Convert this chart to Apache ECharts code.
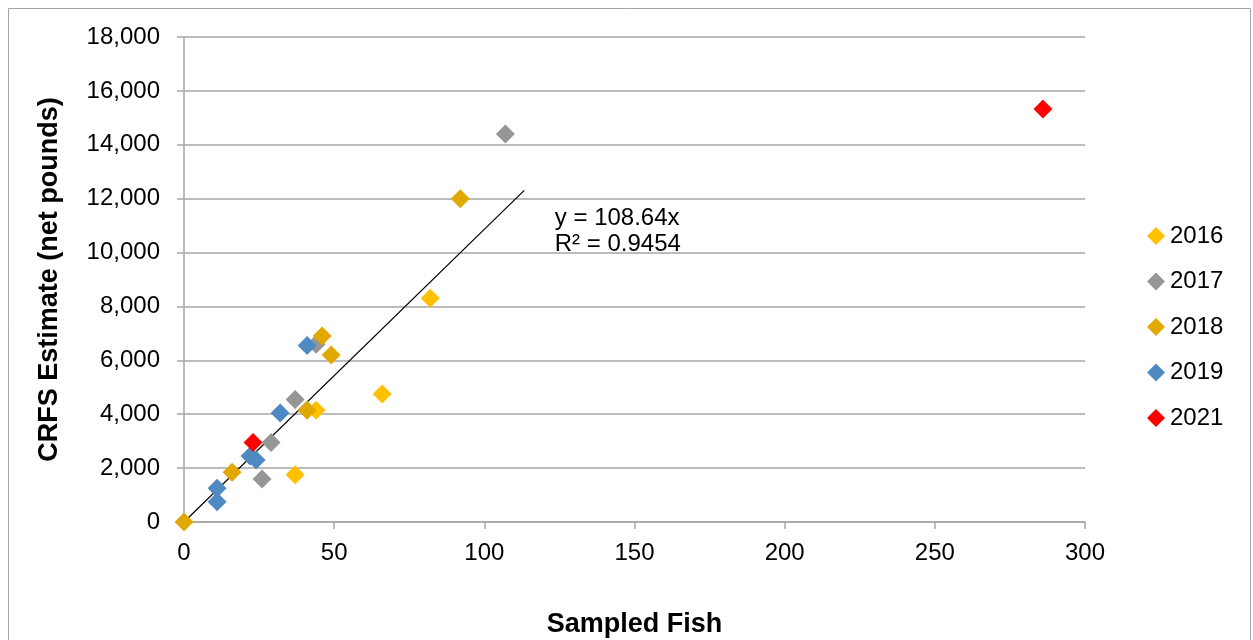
<!DOCTYPE html>
<html><head><meta charset="utf-8">
<script src="https://cdn.jsdelivr.net/npm/echarts@6/dist/echarts.min.js"></script>
<style>html,body{margin:0;padding:0;background:#fff}#c{width:1253px;height:640px}</style>
</head><body><div id="c"></div>
<script>
const seriesNames = ['2016','2017','2018','2019','2021'];
const data2016 = [[37,1750],[44,4150],[66,4750],[82,8300]];
const data2017 = [[26,1600],[29,2950],[37,4550],[44,6600],[107,14400]];
const data2018 = [[0,0],[16,1850],[41,4150],[46,6900],[49,6200],[92,12000]];
const data2019 = [[11,1250],[11,750],[22,2450],[24,2300],[32,4050],[41,6550]];
const data2021 = [[23,2950],[286,15330]];
const trendSlope = 108.64;
const trendX = [0, 113.3];
const eqText = 'y = 108.64x\nR² = 0.9454';
const colors = ['#FFC000','#969696','#E1A800','#4E8AC2','#FF0000'];
const allData = [data2016,data2017,data2018,data2019,data2021];

const font = '"Liberation Sans", Arial, sans-serif';
const chart = echarts.init(document.getElementById('c'), null, {renderer:'canvas'});
const scatterSeries = seriesNames.map((n,i)=>({
  name:n, type:'scatter', symbol:'diamond', symbolSize:19,
  itemStyle:{color:colors[i], opacity:1}, data:allData[i], z:3
}));
const endPt = [trendX[1], trendSlope*trendX[1]];
chart.setOption({
  animation:false,
  backgroundColor:'#fff',
  graphic:[{type:'rect', shape:{x:8.5,y:8.5,width:1242,height:640}, style:{fill:'none',stroke:'#a6a6a6',lineWidth:1}, z:-1}],
  grid:{left:184,right:168,top:37,bottom:118,containLabel:false,outerBoundsMode:'none'},
  xAxis:{type:'value',min:0,max:300,interval:50,
    name:'Sampled Fish',nameLocation:'middle',nameGap:89,
    nameTextStyle:{fontFamily:font,fontSize:27,fontWeight:'bold',color:'#000'},
    axisLine:{show:true,lineStyle:{color:'#a6a6a6',width:1.5}},
    axisTick:{show:true,length:7,inside:false,lineStyle:{color:'#a6a6a6',width:1.5}},
    axisLabel:{fontFamily:font,fontSize:24,color:'#000',margin:19},
    splitLine:{show:false}},
  yAxis:{type:'value',min:0,max:18000,interval:2000,
    name:'CRFS Estimate (net pounds)',nameLocation:'middle',nameGap:121,
    nameTextStyle:{fontFamily:font,fontSize:27,fontWeight:'bold',color:'#000'},
    axisLine:{show:true,lineStyle:{color:'#a6a6a6',width:1.5}},
    axisTick:{show:true,length:7,lineStyle:{color:'#a6a6a6',width:1.5}},
    axisLabel:{fontFamily:font,fontSize:24,color:'#000',margin:24,
      formatter:v=>v.toLocaleString('en-US')},
    splitLine:{show:true,lineStyle:{color:'#a6a6a6',width:1.5}}},
  legend:{orient:'vertical',left:1147,top:224,padding:0,itemGap:21.5,itemWidth:18,itemHeight:18,
    data:seriesNames.map(n=>({name:n,icon:'diamond'})),
    textStyle:{fontFamily:font,fontSize:24,color:'#000'}},
  series:[{
    type:'line', data:trendX.map(x=>[x,trendSlope*x]), symbol:'none', silent:true,
    lineStyle:{color:'#000',width:1.2}, z:2,
    markPoint:{symbol:'circle',symbolSize:1,silent:true,itemStyle:{color:'rgba(0,0,0,0)'},
      data:[{coord:endPt,
      label:{show:true,formatter:eqText,fontFamily:font,fontSize:24,color:'#000',lineHeight:26,
        position:[31,16],align:'left',verticalAlign:'top'}}]}
  }, ...scatterSeries]
});
</script></body></html>
